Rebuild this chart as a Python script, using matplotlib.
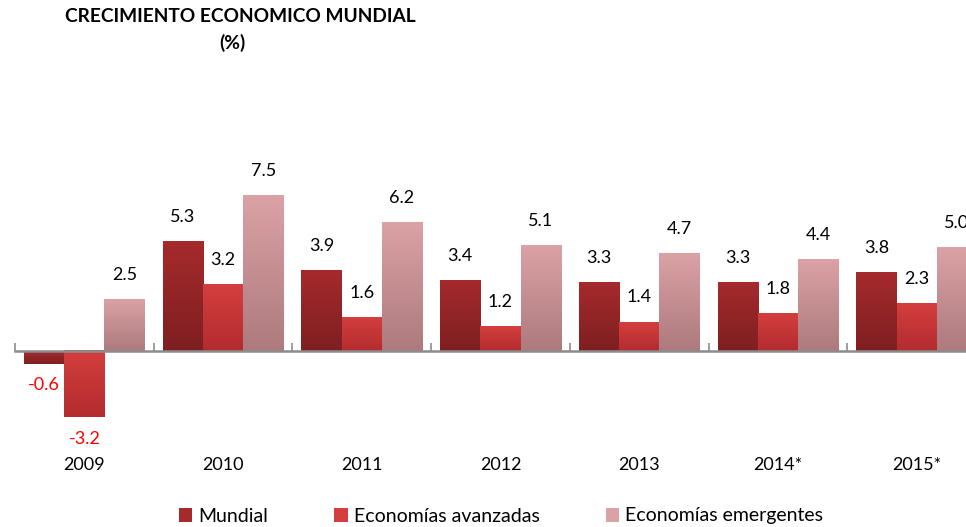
import numpy as np
import matplotlib.pyplot as plt
from matplotlib.colors import LinearSegmentedColormap
from matplotlib.patches import Patch

plt.rcParams["font.family"] = ["Lato", "DejaVu Sans"]

years = ["2009", "2010", "2011", "2012", "2013", "2014*", "2015*"]
mundial = [-0.6, 5.3, 3.9, 3.4, 3.3, 3.3, 3.8]
avanzadas = [-3.2, 3.2, 1.6, 1.2, 1.4, 1.8, 2.3]
emergentes = [2.5, 7.5, 6.2, 5.1, 4.7, 4.4, 5.0]

series = [
    ("Mundial", mundial, ("#a52a2c", "#7e1f21")),
    ("Economías avanzadas", avanzadas, ("#d43e3e", "#b32c2e")),
    ("Economías emergentes", emergentes, ("#dba2a5", "#ad7a7e")),
]

fig = plt.figure(figsize=(9.66, 5.27), dpi=100)
ax = fig.add_axes([15 / 966, 93 / 527, 971 / 966, 290 / 527])

x = np.arange(len(years))
w = 0.29
grad = np.linspace(1, 0, 100).reshape(-1, 1)

for k, (name, vals, (c_top, c_bot)) in enumerate(series):
    cmap = LinearSegmentedColormap.from_list(name, [c_bot, c_top])
    xs = x + (k - 1) * w
    bars = ax.bar(xs, vals, width=w, color="none", edgecolor="none")
    for b, v in zip(bars, vals):
        x0 = b.get_x()
        lo, hi = min(0, v), max(0, v)
        ax.imshow(grad, cmap=cmap, aspect="auto", extent=(x0, x0 + w, lo, hi),
                  zorder=2, interpolation="bilinear")
        if v >= 0:
            ax.annotate(f"{v:.1f}", (b.get_x() + w / 2, v), xytext=(0, 12),
                        textcoords="offset points", ha="center", va="bottom",
                        fontsize=13, color="black")
        else:
            ax.annotate(f"{v:.1f}", (b.get_x() + w / 2, v), xytext=(0, -10),
                        textcoords="offset points", ha="center", va="top",
                        fontsize=13, color="#ff0000")

ax.set_xlim(-0.5, len(years) - 0.5)
ax.set_ylim(-4, 10)

for s in ["top", "left", "right"]:
    ax.spines[s].set_visible(False)
ax.spines["bottom"].set_position(("data", 0))
ax.spines["bottom"].set_color("#8c8c8c")
ax.spines["bottom"].set_linewidth(1.8)
ax.spines["bottom"].set_zorder(3)
ax.set_yticks([])

ax.set_xticks(np.arange(len(years) + 1) - 0.5)
ax.set_xticklabels([])
ax.tick_params(axis="x", which="major", direction="in", length=6, width=1.2,
               color="#8c8c8c")
ax.set_xticks(x, minor=True)
ax.set_xticklabels(years, minor=True, fontsize=13)
ax.tick_params(axis="x", which="minor", length=0, pad=76)

fig.text(240 / 966, 1 - 17 / 527, "CRECIMIENTO ECONOMICO MUNDIAL",
         ha="center", va="center", fontsize=13.8, fontweight="bold")
fig.text(232 / 966, 1 - 43 / 527, "(%)", ha="center", va="center",
         fontsize=13.8, fontweight="bold")

handles = [Patch(facecolor=c[0], edgecolor="none") for _, _, c in series]
fig.legend(handles, [s[0] for s in series], loc="center",
           bbox_to_anchor=(501 / 966, 1 - 516 / 527), ncol=3, frameon=False,
           fontsize=14, handlelength=0.7, handleheight=0.7, handletextpad=0.3,
           columnspacing=3.4)

fig.savefig("out.png", dpi=100)
